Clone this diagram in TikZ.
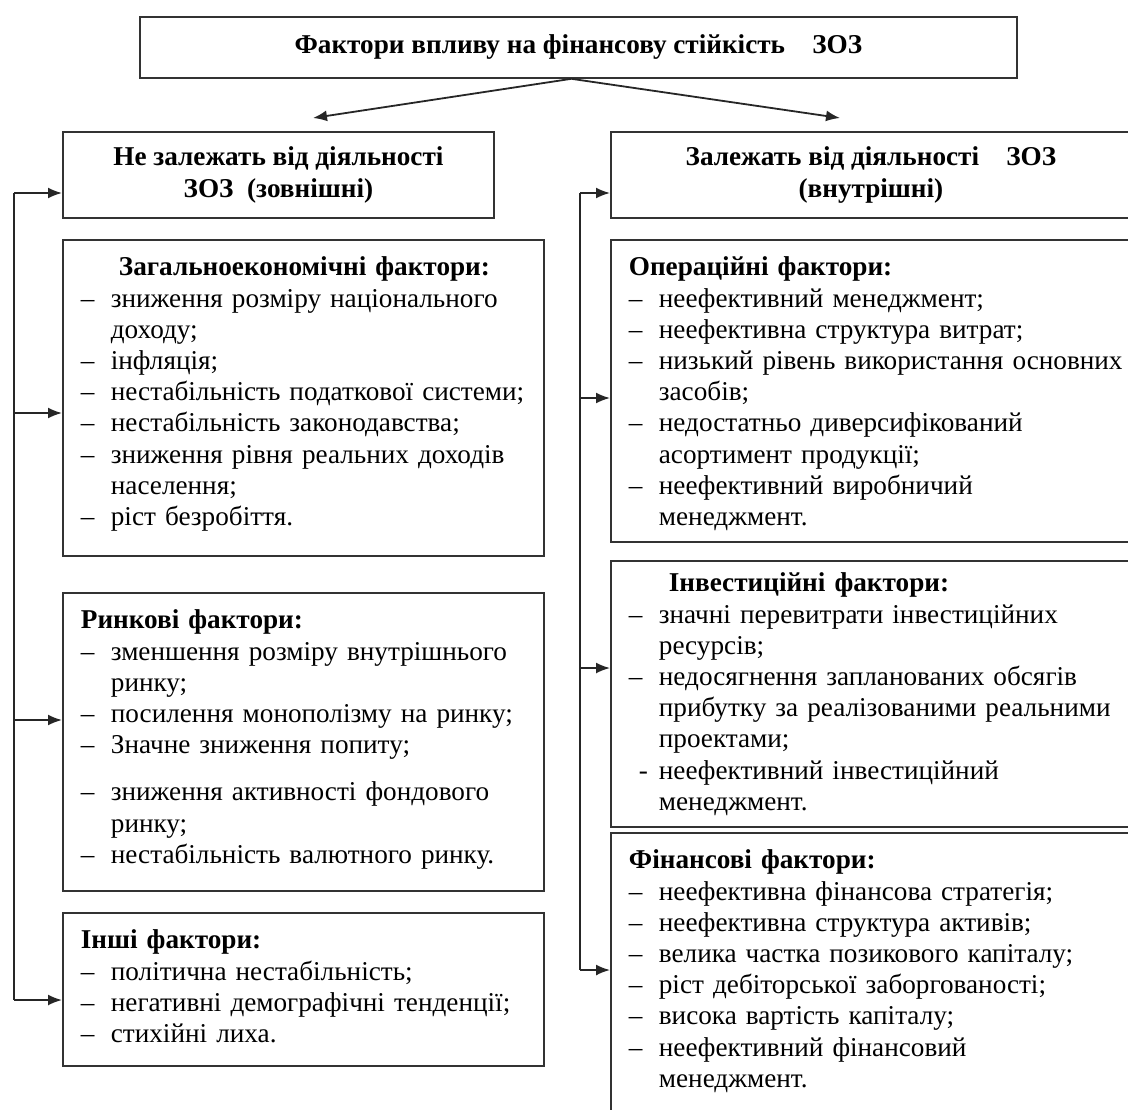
\documentclass[tikz,border=0pt]{standalone}
\usepackage{fontspec}
\setmainfont{Liberation Serif}
\usetikzlibrary{arrows.meta}
\newcommand{\listfont}{\fontsize{13.6}{15.6}\selectfont\parskip=0pt\relax}
\tikzset{
  boxframe/.style={draw=black!80, line width=0.9pt, anchor=north west},
  headbox/.style={boxframe, align=center, inner sep=0pt, font=\bfseries\fontsize{13.6}{15.6}\selectfont},
  factbox/.style={boxframe, text width=#1, align=left, inner xsep=9pt, inner ysep=6pt, text height=12pt, font=\listfont},
  arr/.style={draw=black!85, line width=0.9pt, -{Latex[length=7pt,width=5.5pt]}},
  rail/.style={draw=black!85, line width=0.9pt}
}
% dashed entry of a list and its continuation line
\newcommand{\dashitem}[2][--]{\par\makebox[15pt][l]{#1}\mbox{#2}}
\newcommand{\contline}[1]{\par\hspace*{15pt}\mbox{#1}}

\begin{document}
\begin{tikzpicture}[x=0.5pt, y=-0.5pt]
  \path[use as bounding box, clip] (0,0) rectangle (1128,1109);

  % headings
  \node[headbox, minimum width=438.5pt, minimum height=30.5pt] (title) at (139,16)
       {Фактори впливу на фінансову стійкість\quad ЗОЗ};
  \node[headbox, minimum width=215.5pt, minimum height=43pt] (ext) at (62,131)
       {Не залежать від діяльності\\ ЗОЗ\ \ (зовнішні)};
  \node[headbox, minimum width=260pt, minimum height=43pt] (int) at (610,131)
       {Залежать від діяльності\quad ЗОЗ\\ (внутрішні)};

  % external factors
  \node[factbox=222.5pt, text depth=134pt] (zag) at (62,239) {%
    \hspace*{19pt}{\bfseries Загальноекономічні фактори:}
    \dashitem{зниження розміру національного}
    \contline{доходу;}
    \dashitem{інфляція;}
    \dashitem{нестабільність податкової системи;}
    \dashitem{нестабільність законодавства;}
    \dashitem{зниження рівня реальних доходів}
    \contline{населення;}
    \dashitem{ріст безробіття.}};
  \node[factbox=222.5pt, text depth=125pt] (rynok) at (62,592) {%
    {\bfseries Ринкові фактори:}
    \dashitem{зменшення розміру внутрішнього}
    \contline{ринку;}
    \dashitem{посилення монополізму на ринку;}
    \dashitem{Значне зниження попиту;}
    \par\vspace{8pt}
    \dashitem{зниження активності фондового}
    \contline{ринку;}
    \dashitem{нестабільність валютного ринку.}};
  \node[factbox=222.5pt, text depth=52.5pt] (inshi) at (62,912) {%
    {\bfseries Інші фактори:}
    \dashitem{політична нестабільність;}
    \dashitem{негативні демографічні тенденції;}
    \dashitem{стихійні лиха.}};

  % internal factors
  \node[factbox=252pt, text depth=127pt] (oper) at (610,239) {%
    {\bfseries Операційні фактори:}
    \dashitem{неефективний менеджмент;}
    \dashitem{неефективна структура витрат;}
    \dashitem{низький рівень використання основних}
    \contline{засобів;}
    \dashitem{недостатньо диверсифікований}
    \contline{асортимент продукції;}
    \dashitem{неефективний виробничий}
    \contline{менеджмент.}};
  \node[factbox=252pt, text height=9.5pt, text depth=111.5pt] (invest) at (610,560) {%
    \hspace*{20pt}{\bfseries Інвестиційні фактори:}
    \dashitem{значні перевитрати інвестиційних}
    \contline{ресурсів;}
    \dashitem{недосягнення запланованих обсягів}
    \contline{прибутку за реалізованими реальними}
    \contline{проектами;}
    \dashitem[\hspace{5pt}-]{неефективний інвестиційний}
    \contline{менеджмент.}};
  \node[factbox=252pt, text depth=125pt] (fin) at (610,832) {%
    {\bfseries Фінансові фактори:}
    \dashitem{неефективна фінансова стратегія;}
    \dashitem{неефективна структура активів;}
    \dashitem{велика частка позикового капіталу;}
    \dashitem{ріст дебіторської заборгованості;}
    \dashitem{висока вартість капіталу;}
    \dashitem{неефективний фінансовий}
    \contline{менеджмент.}};

  % top split
  \coordinate (ltip) at (313,118);
  \coordinate (rtip) at (840,118);
  \draw[arr] ([xshift=-3.5pt]title.south) -- (ltip);
  \draw[arr] ([xshift=-3.5pt]title.south) -- (rtip);

  % left rail
  \coordinate (l1) at (14,193);
  \coordinate (l2) at (14,413);
  \coordinate (l3) at (14,720);
  \coordinate (l4) at (14,1000);
  \draw[rail] (l1) -- (l4);
  \draw[arr] (l1) -- (ext.west |- l1);
  \draw[arr] (l2) -- (zag.west |- l2);
  \draw[arr] (l3) -- (rynok.west |- l3);
  \draw[arr] (l4) -- (inshi.west |- l4);

  % right rail
  \coordinate (r1) at (580,193);
  \coordinate (r2) at (580,398);
  \coordinate (r3) at (580,668);
  \coordinate (r4) at (580,970);
  \draw[rail] (r1) -- (r4);
  \draw[arr] (r1) -- (int.west |- r1);
  \draw[arr] (r2) -- (oper.west |- r2);
  \draw[arr] (r3) -- (invest.west |- r3);
  \draw[arr] (r4) -- (fin.west |- r4);
\end{tikzpicture}
\end{document}
